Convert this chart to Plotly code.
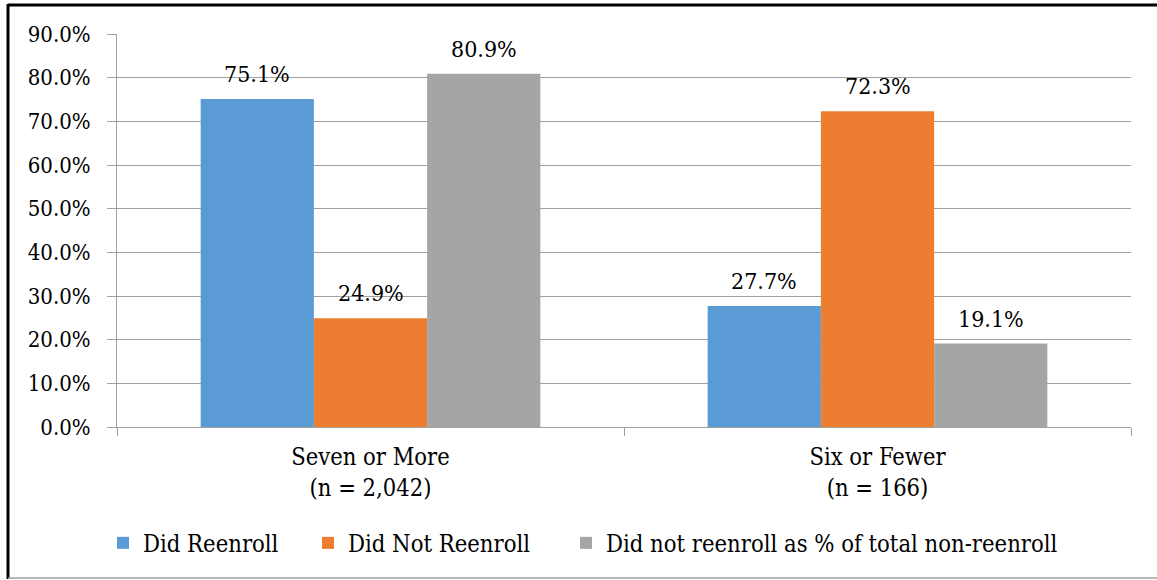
import plotly.graph_objects as go

categories = ["Seven or More<br>(n = 2,042)", "Six or Fewer<br>(n = 166)"]
series_names = ["Did Reenroll", "Did Not Reenroll", "Did not reenroll as % of total non-reenroll"]
did_reenroll = [75.1, 27.7]
did_not_reenroll = [24.9, 72.3]
pct_of_non_reenroll = [80.9, 19.1]
colors = ["#5B9BD5", "#ED7D31", "#A5A5A5"]

FONT = "DejaVu Serif Condensed"

W, H = 1157, 580
ml, mr, mt, mb = 117, 26, 34, 153
pw, ph = W - ml - mr, H - mt - mb
BARGAP = 0.33

def px(x):
    return (x - ml) / pw

def py(y):
    return (H - mb - y) / ph

all_series = [did_reenroll, did_not_reenroll, pct_of_non_reenroll]
legend_ids = ["legend", "legend2", "legend3"]
legend_sym_left = [122, 327, 585]

fig = go.Figure()
for name, vals, col, lg in zip(series_names, all_series, colors, legend_ids):
    fig.add_trace(go.Bar(
        x=categories, y=vals, name=name,
        marker=dict(color=col, line=dict(width=0)),
        legend=lg,
    ))

# data labels placed above each bar
nser = len(all_series)
bar_w = pw / len(categories) * (1 - BARGAP) / nser
annotations = []
for i, vals in enumerate(all_series):
    for cat, v in zip(categories, vals):
        annotations.append(dict(
            x=cat, y=v, xref="x", yref="y", text=f"{v:.1f}%", showarrow=False,
            xshift=(i - (nser - 1) / 2) * bar_w, yshift=25, yanchor="middle",
            font=dict(family=FONT, size=23, color="black"),
        ))

legend_common = dict(orientation="h", yanchor="middle", xanchor="left",
                     font=dict(family=FONT, size=23.6, color="black"),
                     bgcolor="rgba(0,0,0,0)", borderwidth=0)

fig.update_layout(
    width=W, height=H,
    margin=dict(l=ml, r=mr, t=mt, b=mb, pad=0),
    paper_bgcolor="white", plot_bgcolor="white",
    font=dict(family=FONT, size=22, color="black"),
    barmode="group", bargap=BARGAP, bargroupgap=0,
    showlegend=True,
    legend=dict(x=px(legend_sym_left[0] - 19), y=py(543), **legend_common),
    legend2=dict(x=px(legend_sym_left[1] - 19), y=py(543), **legend_common),
    legend3=dict(x=px(legend_sym_left[2] - 19), y=py(543), **legend_common),
    annotations=annotations,
    xaxis=dict(
        type="category", showline=True, linecolor="#A0A0A0", linewidth=1,
        ticks="outside", tickson="boundaries", ticklen=8, tickcolor="#A0A0A0",
        tickfont=dict(family=FONT, size=23.5, color="black"),
        ticklabelstandoff=9,
        showgrid=False, zeroline=False,
    ),
    yaxis=dict(
        range=[0, 90], dtick=10, tickformat=".1f", ticksuffix="%",
        showline=True, linecolor="#A0A0A0", linewidth=1,
        showgrid=True, gridcolor="#A0A0A0", gridwidth=1,
        ticks="outside", ticklen=9, tickcolor="#A0A0A0",
        tickfont=dict(family=FONT, size=22, color="black"),
        ticklabelstandoff=12,
        zeroline=False,
    ),
    shapes=[
        dict(type="line", xref="paper", yref="paper", x0=px(8), x1=px(1160), y0=py(5), y1=py(5),
             line=dict(color="black", width=3)),
        dict(type="line", xref="paper", yref="paper", x0=px(8), x1=px(8), y0=py(4), y1=py(579),
             line=dict(color="black", width=3)),
        dict(type="line", xref="paper", yref="paper", x0=px(8), x1=px(1160), y0=py(578), y1=py(578),
             line=dict(color="#A0A0A0", width=1.5)),
    ],
)

fig.write_html("out.html")
